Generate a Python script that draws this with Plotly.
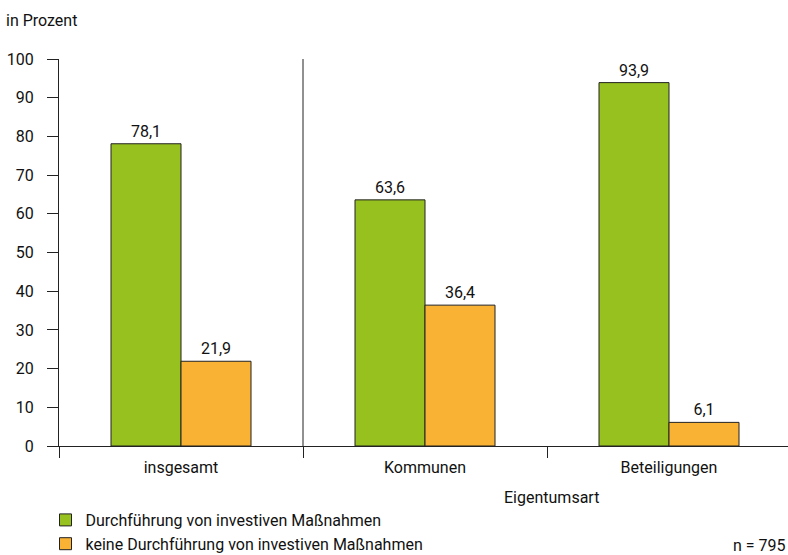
import plotly.graph_objects as go

categories = ["insgesamt", "Kommunen", "Beteiligungen"]
durchfuehrung = [78.1, 63.6, 93.9]
keine = [21.9, 36.4, 6.1]
series_names = ["Durchführung von investiven Maßnahmen",
                "keine Durchführung von investiven Maßnahmen"]
y_ticks = [0, 10, 20, 30, 40, 50, 60, 70, 80, 90, 100]

FONT = "Roboto, Liberation Sans, sans-serif"
FS = 16
GREEN = "#97C11F"
ORANGE = "#F9B233"
DARK = "#222222"
TXT = "#111111"

fig = go.Figure()
for vals, name, col in [(durchfuehrung, series_names[0], GREEN),
                        (keine, series_names[1], ORANGE)]:
    fig.add_trace(go.Bar(
        x=categories, y=vals, name=name,
        marker=dict(color=col, line=dict(color=DARK, width=1)),
        texttemplate="%{y:.1f}", textposition="outside",
        textfont=dict(size=FS, color=TXT, family=FONT),
        cliponaxis=False,
    ))

fig.add_shape(type="line", xref="x", yref="y", x0=0.5, x1=0.5, y0=0, y1=100,
              line=dict(color=DARK, width=1))

fig.add_annotation(text="in Prozent", xref="paper", yref="paper",
                   x=-55/729, y=(446-20)/387, xanchor="left", yanchor="middle",
                   showarrow=False, font=dict(size=FS, family=FONT, color=TXT))
fig.add_annotation(text="Eigentumsart", xref="paper", yref="paper",
                   x=(551-59)/729, y=(446-497)/387, xanchor="center", yanchor="middle",
                   showarrow=False, font=dict(size=FS, family=FONT, color=TXT))
fig.add_annotation(text="n = 795", xref="paper", yref="paper",
                   x=1.0, y=(446-545)/387, xanchor="right", yanchor="middle",
                   showarrow=False, font=dict(size=FS, family=FONT, color=TXT))

fig.update_layout(
    width=788, height=555,
    margin=dict(l=59, r=0, t=59, b=109, autoexpand=False),
    plot_bgcolor="white", paper_bgcolor="white",
    separators=",.",
    barmode="group", bargap=104/244, bargroupgap=0,
    font=dict(family=FONT, size=FS, color=TXT),
    showlegend=True,
    legend=dict(x=-0.0185, y=(446-503)/387, xanchor="left", yanchor="top",
                orientation="v", font=dict(size=FS, family=FONT, color=TXT),
                tracegroupgap=0, itemwidth=30, bgcolor="rgba(0,0,0,0)"),
    xaxis=dict(type="category", range=[-0.5, -0.5 + 729/244],
               showline=True, linecolor=DARK, linewidth=1,
               ticks="outside", ticklen=11, tickcolor=DARK, tickson="boundaries",
               showgrid=False, zeroline=False, tickfont=dict(size=FS),
               ticklabelstandoff=7),
    yaxis=dict(range=[0, 100], tickvals=y_ticks, showline=True, linecolor=DARK,
               linewidth=1, ticks="outside", ticklen=11, tickcolor=DARK,
               showgrid=False, zeroline=False, ticklabelstandoff=10,
               tickfont=dict(size=FS)),
)

fig.write_html("out.html", config={"displayModeBar": False},
               post_script="document.body.style.margin='0px';")
